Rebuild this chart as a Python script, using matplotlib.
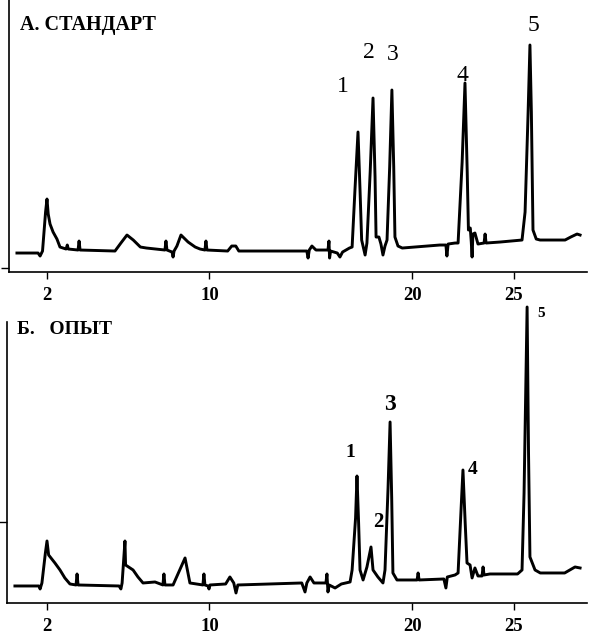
import matplotlib.pyplot as plt

plt.rcParams['font.family'] = ['Liberation Serif', 'DejaVu Serif']

# retention time, min
time_a = [0.52, 1.56, 1.66, 1.78, 1.93, 2.00, 2.06, 2.15, 2.30, 2.49, 2.64, 2.94, 3.00, 3.05,
          3.53, 3.58, 3.63, 5.35, 5.64, 5.94, 6.25, 6.60, 6.90, 7.81, 7.86, 7.91, 8.16, 8.21,
          8.26, 8.40, 8.60, 8.95, 9.30, 9.54, 9.78, 9.83, 9.88, 10.90, 11.10, 11.30, 11.45,
          14.46, 14.80, 14.86, 14.92, 15.05, 15.25, 15.84, 15.89, 15.92, 15.97, 16.30, 16.43,
          16.56, 16.90, 17.03, 17.17, 17.32, 17.42, 17.50, 17.67, 17.76, 17.92, 18.06, 18.16,
          18.21, 18.35, 18.45, 18.55, 18.65, 18.75, 18.88, 18.99, 19.08, 19.14, 19.29, 19.50,
          21.35, 21.65, 21.70, 21.76, 22.10, 22.25, 22.45, 22.59, 22.70, 22.76, 22.85, 22.90,
          22.94, 22.98, 23.08, 23.23, 23.53, 23.58, 23.63, 24.32, 25.40, 25.55, 25.70, 25.79,
          25.86, 25.94, 26.10, 26.29, 27.52, 27.80, 28.11, 28.26]
signal_a = [19, 19, 16, 21, 60, 73, 58, 48, 40, 33, 25, 23, 27, 23,
            22, 31, 22, 21, 29, 37, 32, 25, 24, 22, 31, 22, 20, 15,
            21, 26, 37, 30, 25, 23, 22, 31, 22, 21, 26, 26, 21,
            21, 21, 14, 22, 26, 22, 22, 31, 14, 21, 19, 15,
            20, 24, 25, 82, 140, 82, 32, 17, 29, 100, 174, 95,
            35, 35, 28, 17, 26, 32, 105, 182, 105, 35, 26, 24,
            27, 27, 16, 28, 29, 29, 110, 189, 100, 42, 44, 30,
            15, 38, 39, 28, 29, 38, 29, 30, 32, 60, 160, 227,
            160, 42, 33, 32, 32, 35, 38, 37]

time_b = [0.42, 1.60, 1.66, 1.75, 1.92, 2.00, 2.08, 2.39, 2.64, 2.88, 3.13, 3.43, 3.48, 3.53,
          5.55, 5.64, 5.70, 5.84, 5.87, 6.24, 6.48, 6.73, 7.32, 7.71, 7.76, 7.81, 8.21, 8.80,
          9.04, 9.68, 9.73, 9.78, 9.93, 9.98, 10.03, 10.80, 11.01, 11.20, 11.31, 11.40,
          14.55, 14.71, 14.80, 14.96, 15.15, 15.74, 15.79, 15.84, 15.90, 16.19, 16.50, 16.93,
          17.03, 17.20, 17.27, 17.35, 17.42, 17.57, 17.76, 17.96, 18.06, 18.30, 18.55, 18.65,
          18.80, 18.90, 18.98, 19.04, 19.24, 20.23, 20.28, 20.33, 21.55, 21.65, 21.72, 22.10,
          22.25, 22.40, 22.49, 22.60, 22.69, 22.84, 22.94, 23.08, 23.23, 23.43, 23.48, 23.53,
          23.82, 25.18, 25.40, 25.50, 25.65, 25.72, 25.79, 26.04, 26.30, 27.50, 28.01, 28.26]
signal_b = [17, 17, 14, 20, 50, 62, 48, 40, 33, 25, 19, 18, 29, 18,
            17, 14, 20, 62, 38, 33, 26, 20, 21, 18, 29, 18, 18, 45,
            20, 18, 29, 18, 17, 14, 18, 19, 26, 20, 10, 18,
            20, 11, 20, 26, 20, 20, 29, 11, 18, 15, 19, 21,
            33, 85, 127, 80, 33, 23, 36, 56, 33, 26, 20, 33,
            115, 181, 105, 30, 23, 23, 30, 23, 24, 15, 26, 28,
            30, 95, 133, 80, 40, 38, 25, 35, 27, 27, 36, 28,
            29, 29, 33, 110, 296, 150, 46, 33, 30, 30, 36, 35]

peak_names = ['1', '2', '3', '4', '5']
label_a_t = [16.58, 17.86, 19.04, 22.44, 25.94]
label_a_h = [186, 220, 218, 197, 247]
label_b_t = [16.93, 18.31, 18.90, 22.99, 26.34]
label_b_h = [150, 81, 198, 133, 290]
label_b_size = [14, 15, 17, 14, 11]

xticks = [2, 10, 20, 25]

fig = plt.figure(figsize=(5.94, 6.44), dpi=100)
ax1 = fig.add_axes([0.0152, 0.5776, 0.973, 0.4224])
ax2 = fig.add_axes([0.0118, 0.0637, 0.9764, 0.4363])

for ax in (ax1, ax2):
    ax.spines['top'].set_visible(False)
    ax.spines['right'].set_visible(False)
    ax.spines['left'].set_linewidth(1.2)
    ax.spines['bottom'].set_linewidth(1.2)
    ax.set_xticks(xticks)
    ax.set_xticklabels([str(v) for v in xticks], fontweight='bold', fontsize=13.5)
    ax.tick_params(axis='x', direction='out', length=5, width=1, pad=6)
    ax.tick_params(axis='y', direction='out', length=6, width=1, labelleft=False)

ax1.plot(time_a, signal_a, color='black', lw=2.1, clip_on=False)
ax1.set_xlim(0.13, 28.6)
ax1.set_ylim(0, 272)
ax1.set_yticks([4])
for name, t, h in zip(peak_names, label_a_t, label_a_h):
    ax1.text(t, h, name, fontsize=17, ha='center', va='center')
ax1.text(0.019, 0.908, 'А. СТАНДАРТ', transform=ax1.transAxes, fontsize=14.5,
         fontweight='bold', va='center', ha='left')

ax2.plot(time_b, signal_b, color='black', lw=2.1, clip_on=False)
ax2.set_xlim(0.03, 28.6)
ax2.set_ylim(0, 281)
ax2.set_yticks([81])
for name, t, h, s in zip(peak_names, label_b_t, label_b_h, label_b_size):
    ax2.text(t, h, name, fontsize=s, fontweight='bold', ha='center', va='center')
ax2.text(0.017, 0.975, 'Б.   ОПЫТ', transform=ax2.transAxes, fontsize=14,
         fontweight='bold', va='center', ha='left')

fig.savefig('out.png', dpi=100)
